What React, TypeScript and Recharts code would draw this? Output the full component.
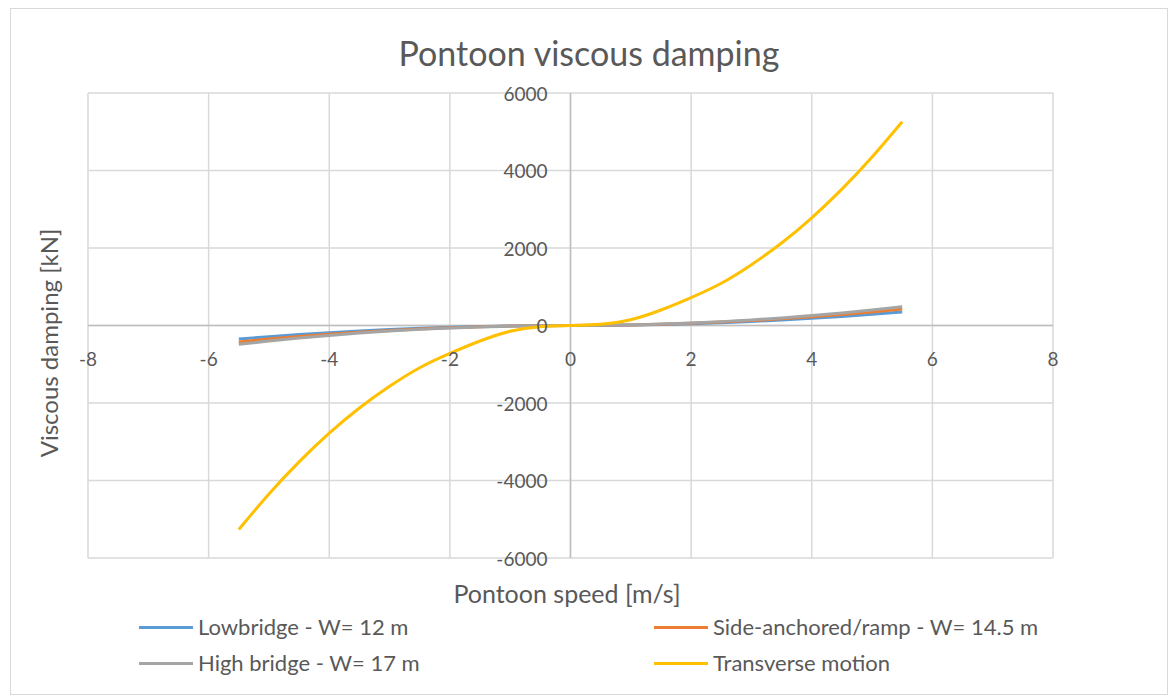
import { CartesianGrid, Line, LineChart, ReferenceLine, XAxis, YAxis } from "recharts"

// speed [m/s]
const speeds = [-5.5, -5, -4.5, -4, -3.5, -3, -2.5, -2, -1.5, -1, -0.5, 0, 0.5, 1, 1.5, 2, 2.5, 3, 3.5, 4, 4.5, 5, 5.5]

// viscous damping [kN]
const lowbridge = [-350, -288, -233, -184, -141, -104, -72, -46, -26, -12, -3, 0, 3, 12, 26, 46, 72, 104, 141, 184, 233, 288, 350]
const sideAnchored = [-425, -350, -284, -224, -172, -126, -88, -56, -32, -14, -4, 0, 4, 14, 32, 56, 88, 126, 172, 224, 284, 350, 425]
const highBridge = [-485, -400, -324, -256, -196, -144, -100, -64, -36, -16, -4, 0, 4, 16, 36, 64, 100, 144, 196, 256, 324, 400, 485]
const transverse = [-5265, -4350, -3520, -2780, -2130, -1570, -1090, -720, -400, -150, -30, 0, 30, 150, 400, 720, 1090, 1570, 2130, 2780, 3520, 4350, 5260]

const xTicks = [-8, -6, -4, -2, 0, 2, 4, 6, 8]
const yTicks = [-6000, -4000, -2000, 0, 2000, 4000, 6000]

const series = [
  { name: "Lowbridge - W= 12 m", color: "#5B9BD5", values: lowbridge },
  { name: "Side-anchored/ramp - W= 14.5 m", color: "#ED7D31", values: sideAnchored },
  { name: "High bridge - W= 17 m", color: "#A5A5A5", values: highBridge },
  { name: "Transverse motion", color: "#FFC000", values: transverse },
]

const FONT = "Lato, 'Open Sans', sans-serif"
const TEXT = "#595959"

const W = 1156
const H = 685
const margin = { top: 84, right: 114, bottom: 135, left: 76 }
// plot area edges (axes take 1px each)
const plotLeft = margin.left + 1
const plotTop = margin.top
const plotW = W - plotLeft - margin.right
const plotH = H - plotTop - margin.bottom - 1
const zeroX = plotLeft + plotW / 2
const zeroY = plotTop + plotH / 2

function XTick(props: any) {
  const { x, payload } = props
  return (
    <text x={x} y={zeroY + 33} textAnchor="middle" dominantBaseline="central" fontSize={19} fill={TEXT} fontFamily={FONT}>
      {payload.value}
    </text>
  )
}

function YTick(props: any) {
  const { y, payload } = props
  return (
    <text x={zeroX - 23} y={y} textAnchor="end" dominantBaseline="central" fontSize={19} fill={TEXT} fontFamily={FONT}>
      {payload.value}
    </text>
  )
}

export default function App() {
  return (
    <div
      style={{
        position: "absolute",
        left: 10,
        top: 8,
        width: W + 2,
        height: H + 2,
        border: "1px solid #d9d9d9",
        boxSizing: "border-box",
        background: "#fff",
        fontFamily: FONT,
        color: TEXT,
      }}
    >
      <div style={{ position: "absolute", left: 0, width: W, top: 24, textAlign: "center", fontSize: 34, lineHeight: "40px" }}>
        Pontoon viscous damping
      </div>
      <div
        style={{
          position: "absolute",
          left: 38,
          top: 334,
          fontSize: 24,
          lineHeight: "28px",
          whiteSpace: "nowrap",
          transform: "translate(-50%, -50%) rotate(-90deg)",
        }}
      >
        Viscous damping [kN]
      </div>
      <div style={{ position: "absolute", left: 0, width: 1112, top: 569, textAlign: "center", fontSize: 25, lineHeight: "30px" }}>
        Pontoon speed [m/s]
      </div>

      <LineChart width={W} height={H} margin={margin}>
        <CartesianGrid stroke="#d9d9d9" strokeWidth={1.5} />
        <XAxis
          type="number"
          dataKey="x"
          domain={[-8, 8]}
          ticks={xTicks}
          height={1}
          axisLine={false}
          tickLine={false}
          tick={(p: any) => <XTick {...p} />}
          interval={0}
        />
        <YAxis
          type="number"
          domain={[-6000, 6000]}
          ticks={yTicks}
          width={1}
          axisLine={false}
          tickLine={false}
          tick={(p: any) => <YTick {...p} />}
          interval={0}
        />
        <ReferenceLine y={0} stroke="#bfbfbf" strokeWidth={1.5} />
        <ReferenceLine x={0} stroke="#bfbfbf" strokeWidth={1.5} />
        {series.map((s) => (
          <Line
            key={s.name}
            name={s.name}
            data={speeds.map((x, i) => ({ x, y: s.values[i] }))}
            dataKey="y"
            type="natural"
            stroke={s.color}
            strokeWidth={3}
            dot={false}
            isAnimationActive={false}
          />
        ))}
      </LineChart>

      {series.map((s, i) => (
        <div
          key={s.name}
          style={{
            position: "absolute",
            left: i % 2 === 0 ? 128 : 643,
            top: 604 + Math.floor(i / 2) * 36,
            display: "flex",
            alignItems: "center",
            fontSize: 22,
            lineHeight: "28px",
            whiteSpace: "nowrap",
          }}
        >
          <span style={{ display: "inline-block", width: 54, height: 3, background: s.color, marginRight: 5 }} />
          {s.name}
        </div>
      ))}
    </div>
  )
}
